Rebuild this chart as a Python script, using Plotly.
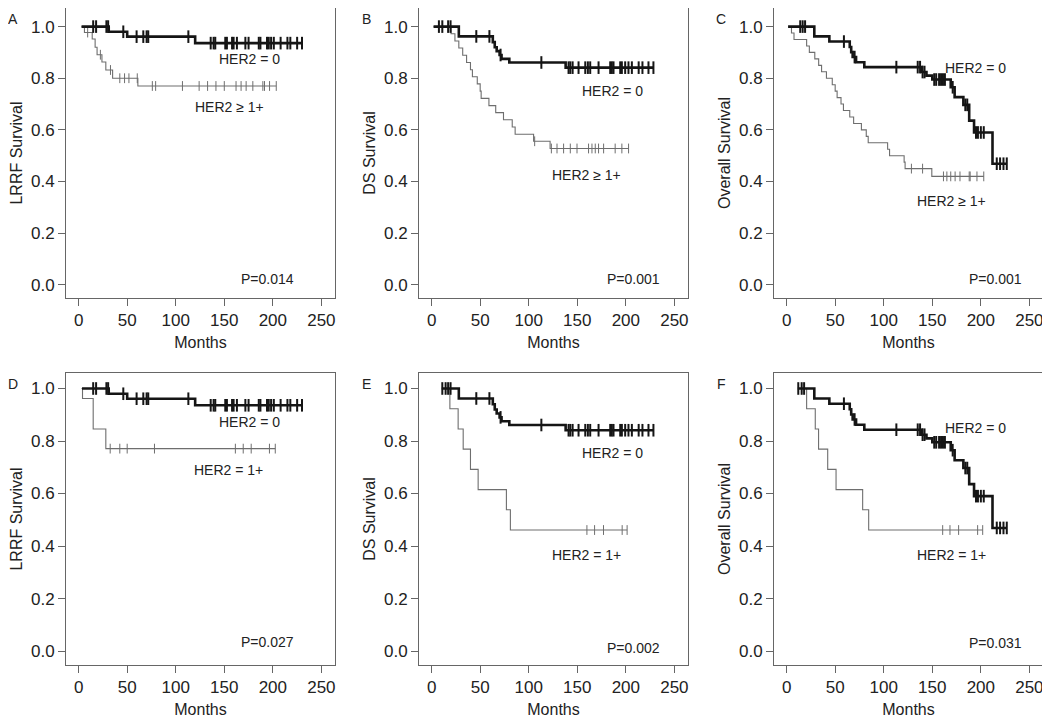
import plotly.graph_objects as go
from plotly.subplots import make_subplots

# ---- HER2 = 0 group: event times (months) and survival after each event ----
lrrf0_t = [31, 50, 120]
lrrf0_s = [0.98, 0.961, 0.936]
ds0_t = [28, 63, 65, 67, 70, 72, 80, 138]
ds0_s = [0.962, 0.94, 0.92, 0.905, 0.89, 0.875, 0.861, 0.841]
os0_t = [28.5, 44, 65, 66.5, 68, 71.5, 80, 139, 144, 150, 169, 173, 182, 188, 193, 212]
os0_s = [0.962, 0.942, 0.921, 0.901, 0.882, 0.862, 0.843, 0.824, 0.81, 0.795,
         0.765, 0.727, 0.697, 0.636, 0.59, 0.469]

# censored times, HER2 = 0
lrrf0_c = [15, 18, 28.6, 30.4, 46, 59.7, 66.6, 70, 71.7, 113, 136, 139, 140.7, 151, 152.7,
           158, 159.6, 163, 171.7, 175, 185.5, 187.2, 194, 195.8, 198.2, 201, 208, 215,
           218, 225, 230]
ds0_c_b = [7.5, 11, 17, 19.5, 46, 59.5, 71, 113, 141, 142.8, 145.2, 151.3, 158.2, 160.9,
           163.3, 171.9, 183.9, 185.6, 187.3, 194.2, 195.9, 199.3, 202.7, 206.2, 213.2,
           217.1, 223.3, 228.4]
ds0_c_e = [11, 14.4, 17, 19.5, 46, 59.5, 71, 113, 141, 142.8, 145.2, 151.3, 158.2, 160.9,
           163.3, 171.9, 183.9, 185.6, 187.3, 194.2, 195.9, 199.3, 202.7, 206.2, 213.2,
           217.1, 223.3, 228.4]
os0_c_c = [14, 16.5, 19, 59, 70, 113, 135, 137.4, 140, 142, 152, 154, 157, 159, 161, 163,
           171, 184, 186, 195, 197, 200, 203, 216.4, 219.8, 223.3, 226.7]
os0_c_f = [12, 15.5, 18, 59, 70, 113, 135, 137.4, 140, 142, 152, 154, 157, 159, 161, 163,
           171, 184, 186, 195, 197, 200, 203, 216.4, 219.8, 223.3, 226.7]

# ---- HER2 >= 1+ (top row) ----
lrrf1_t = [6, 14, 17, 19, 24, 28, 35, 61]
lrrf1_s = [0.977, 0.952, 0.92, 0.891, 0.863, 0.832, 0.80, 0.77]
lrrf1_c = [9.3, 22.4, 32.8, 42.4, 47.3, 51.8, 60.4, 75.9, 79.3, 106.9, 124.1, 132.8,
           141.4, 150, 162.1, 167.3, 172.5, 179.4, 189.7, 191.4, 196.6, 203.5]
ds1_t = [20, 24, 28, 32, 36, 40, 42, 47, 50, 51, 59, 66, 74, 83, 86, 105, 122]
ds1_s = [0.972, 0.944, 0.917, 0.889, 0.861, 0.833, 0.806, 0.778, 0.75, 0.722, 0.694,
         0.667, 0.639, 0.611, 0.583, 0.556, 0.528]
ds1_c = [106.1, 123.3, 129.1, 135.9, 142.8, 149.7, 161.6, 165.1, 168.5, 171.9, 177.1,
         189, 195.9, 202.8]
os1_t = [5, 7.6, 20.6, 23.4, 29, 33, 36, 41, 47, 50, 52, 56, 58.5, 65, 69, 77, 82, 84,
         104, 106, 121, 122, 149.5]
os1_s = [0.975, 0.95, 0.925, 0.90, 0.875, 0.85, 0.825, 0.80, 0.775, 0.75, 0.725, 0.70,
         0.675, 0.65, 0.625, 0.60, 0.575, 0.55, 0.525, 0.50, 0.475, 0.45, 0.42]
os1_c = [128.5, 140, 161.5, 165, 169, 173.5, 178.5, 188, 189, 196, 203]

# ---- HER2 = 1+ (bottom row) ----
lrrfp_t = [4, 15, 28]
lrrfp_s = [0.962, 0.846, 0.771]
lrrfp_c = [32.5, 42.4, 50, 78.1, 161.4, 169.5, 177.7, 196.5, 202.5]
dsp_t = [18.8, 27.3, 32.5, 40, 47.9, 77, 81.1]
dsp_s = [0.923, 0.846, 0.769, 0.692, 0.615, 0.538, 0.461]
dsp_c = [159.9, 167.8, 177, 196.2, 201.3]
osp_t = [20.6, 29.5, 32.9, 42.3, 50.9, 78.3, 84.5]
osp_s = [0.923, 0.846, 0.769, 0.692, 0.615, 0.538, 0.461]
osp_c = [160.7, 168.2, 177.1, 196.7, 201.9]

panels = [
    dict(letter="A", ylab="LRRF Survival", p="P=0.014", lab1="HER2 \u2265 1+",
         g0=(3, lrrf0_t, lrrf0_s, lrrf0_c), g1=(3, lrrf1_t, lrrf1_s, lrrf1_c),
         pos0=(176, 0.876), pos1=(155, 0.687), posp=(194, 0.023)),
    dict(letter="B", ylab="DS Survival", p="P=0.001", lab1="HER2 \u2265 1+",
         g0=(2, ds0_t, ds0_s, ds0_c_b), g1=(2, ds1_t, ds1_s, ds1_c),
         pos0=(186, 0.752), pos1=(159, 0.427), posp=(208, 0.023)),
    dict(letter="C", ylab="Overall Survival", p="P=0.001", lab1="HER2 \u2265 1+",
         g0=(1.5, os0_t, os0_s, os0_c_c), g1=(3, os1_t, os1_s, os1_c),
         pos0=(195, 0.838), pos1=(170, 0.326), posp=(215, 0.023)),
    dict(letter="D", ylab="LRRF Survival", p="P=0.027", lab1="HER2 = 1+",
         g0=(3.5, lrrf0_t, lrrf0_s, lrrf0_c), g1=(3, lrrfp_t, lrrfp_s, lrrfp_c),
         pos0=(176, 0.874), pos1=(154.5, 0.69), posp=(194, 0.035)),
    dict(letter="E", ylab="DS Survival", p="P=0.002", lab1="HER2 = 1+",
         g0=(10.5, ds0_t, ds0_s, ds0_c_e), g1=(10.5, dsp_t, dsp_s, dsp_c),
         pos0=(186, 0.754), pos1=(159, 0.366), posp=(208, 0.010)),
    dict(letter="F", ylab="Overall Survival", p="P=0.031", lab1="HER2 = 1+",
         g0=(11.5, os0_t, os0_s, os0_c_f), g1=(12, osp_t, osp_s, osp_c),
         pos0=(195, 0.851), pos1=(170, 0.366), posp=(215, 0.029)),
]


def km_line(start, times, surv, cens):
    end = max(list(times) + list(cens))
    xs = [start] + list(times) + [end]
    ys = [1.0] + list(surv) + [surv[-1]]
    return xs, ys


def level_at(t, times, surv):
    lev = 1.0
    for tt, ss in zip(times, surv):
        if tt <= t:
            lev = ss
    return lev


fig = make_subplots(rows=2, cols=3)

# page body has an 8px margin, so the figure is drawn 8px in from the window edge
OFF = 8
W, H = 1050 - OFF, 723 - OFF
xdom = [(66, 335), (419, 688), (774, 1043)]
ydom_px = [(2, 298), (373, 665)]
font = "Liberation Sans, Arial, Helvetica, sans-serif"

styles = {
    "g1": dict(color="#6e6e6e", width=1.1, msize=7, mw=1),
    "g0": dict(color="#151515", width=2.6, msize=9, mw=2),
}

for i, pn in enumerate(panels):
    r, c = i // 3 + 1, i % 3 + 1
    for key in ["g1", "g0"]:
        start, t, s, cens = pn[key]
        st = styles[key]
        xs, ys = km_line(start, t, s, cens)
        fig.add_trace(go.Scatter(x=xs, y=ys, mode="lines", line_shape="hv",
                                 line=dict(color=st["color"], width=st["width"]),
                                 showlegend=False, hoverinfo="skip"), row=r, col=c)
        fig.add_trace(go.Scatter(x=cens, y=[level_at(v, t, s) for v in cens], mode="markers",
                                 marker=dict(symbol="line-ns", size=st["msize"],
                                             line=dict(color=st["color"], width=st["mw"])),
                                 showlegend=False, hoverinfo="skip"), row=r, col=c)

    yr = [-0.051, 1.072] if r == 1 else [-0.053, 1.059]
    fig.update_xaxes(range=[-13, 264], tickvals=[0, 50, 100, 150, 200, 250],
                     title=dict(text="Months", font=dict(size=16, color="#222", family=font), standoff=7),
                     row=r, col=c)
    fig.update_yaxes(range=yr, tickvals=[0, 0.2, 0.4, 0.6, 0.8, 1.0], tickformat=".1f",
                     title=dict(text=pn["ylab"], font=dict(size=16, color="#222", family=font), standoff=4),
                     row=r, col=c)

    ax = "" if i == 0 else str(i + 1)
    x0, x1 = [v - OFF for v in xdom[c - 1]]
    y0, y1 = [max(v - OFF, 0) for v in ydom_px[r - 1]]
    fig.layout["xaxis" + ax].domain = [x0 / W, x1 / W]
    fig.layout["yaxis" + ax].domain = [1 - y1 / H, 1 - y0 / H]

    xref, yref = "x" + ax, "y" + ax
    fig.add_annotation(x=pn["pos0"][0], y=pn["pos0"][1], xref=xref, yref=yref, text="HER2 = 0",
                       showarrow=False, font=dict(size=14, color="#222", family=font))
    fig.add_annotation(x=pn["pos1"][0], y=pn["pos1"][1], xref=xref, yref=yref, text=pn["lab1"],
                       showarrow=False, font=dict(size=14, color="#222", family=font))
    fig.add_annotation(x=pn["posp"][0], y=pn["posp"][1], xref=xref, yref=yref, text=pn["p"],
                       showarrow=False, font=dict(size=14, color="#222", family=font))
    fig.add_annotation(x=(x0 - 53) / W, y=1 - (y0 + 11) / H, xref="paper", yref="paper",
                       text=pn["letter"], showarrow=False, xanchor="center", yanchor="middle",
                       font=dict(size=14, color="#222", family=font))

fig.update_xaxes(showline=True, mirror=True, linecolor="#666", linewidth=1, ticks="outside",
                 ticklen=7, tickcolor="#666", showgrid=False, zeroline=False, automargin=False,
                 tickfont=dict(size=17, color="#222", family=font))
fig.update_yaxes(showline=True, mirror=True, linecolor="#666", linewidth=1, ticks="outside",
                 ticklen=7, tickcolor="#666", showgrid=False, zeroline=False, automargin=False,
                 tickfont=dict(size=17, color="#222", family=font))

fig.update_layout(width=W, height=H, margin=dict(l=0, r=0, t=0, b=0),
                  paper_bgcolor="white", plot_bgcolor="white", font=dict(family=font))

fig.write_html("out.html")
